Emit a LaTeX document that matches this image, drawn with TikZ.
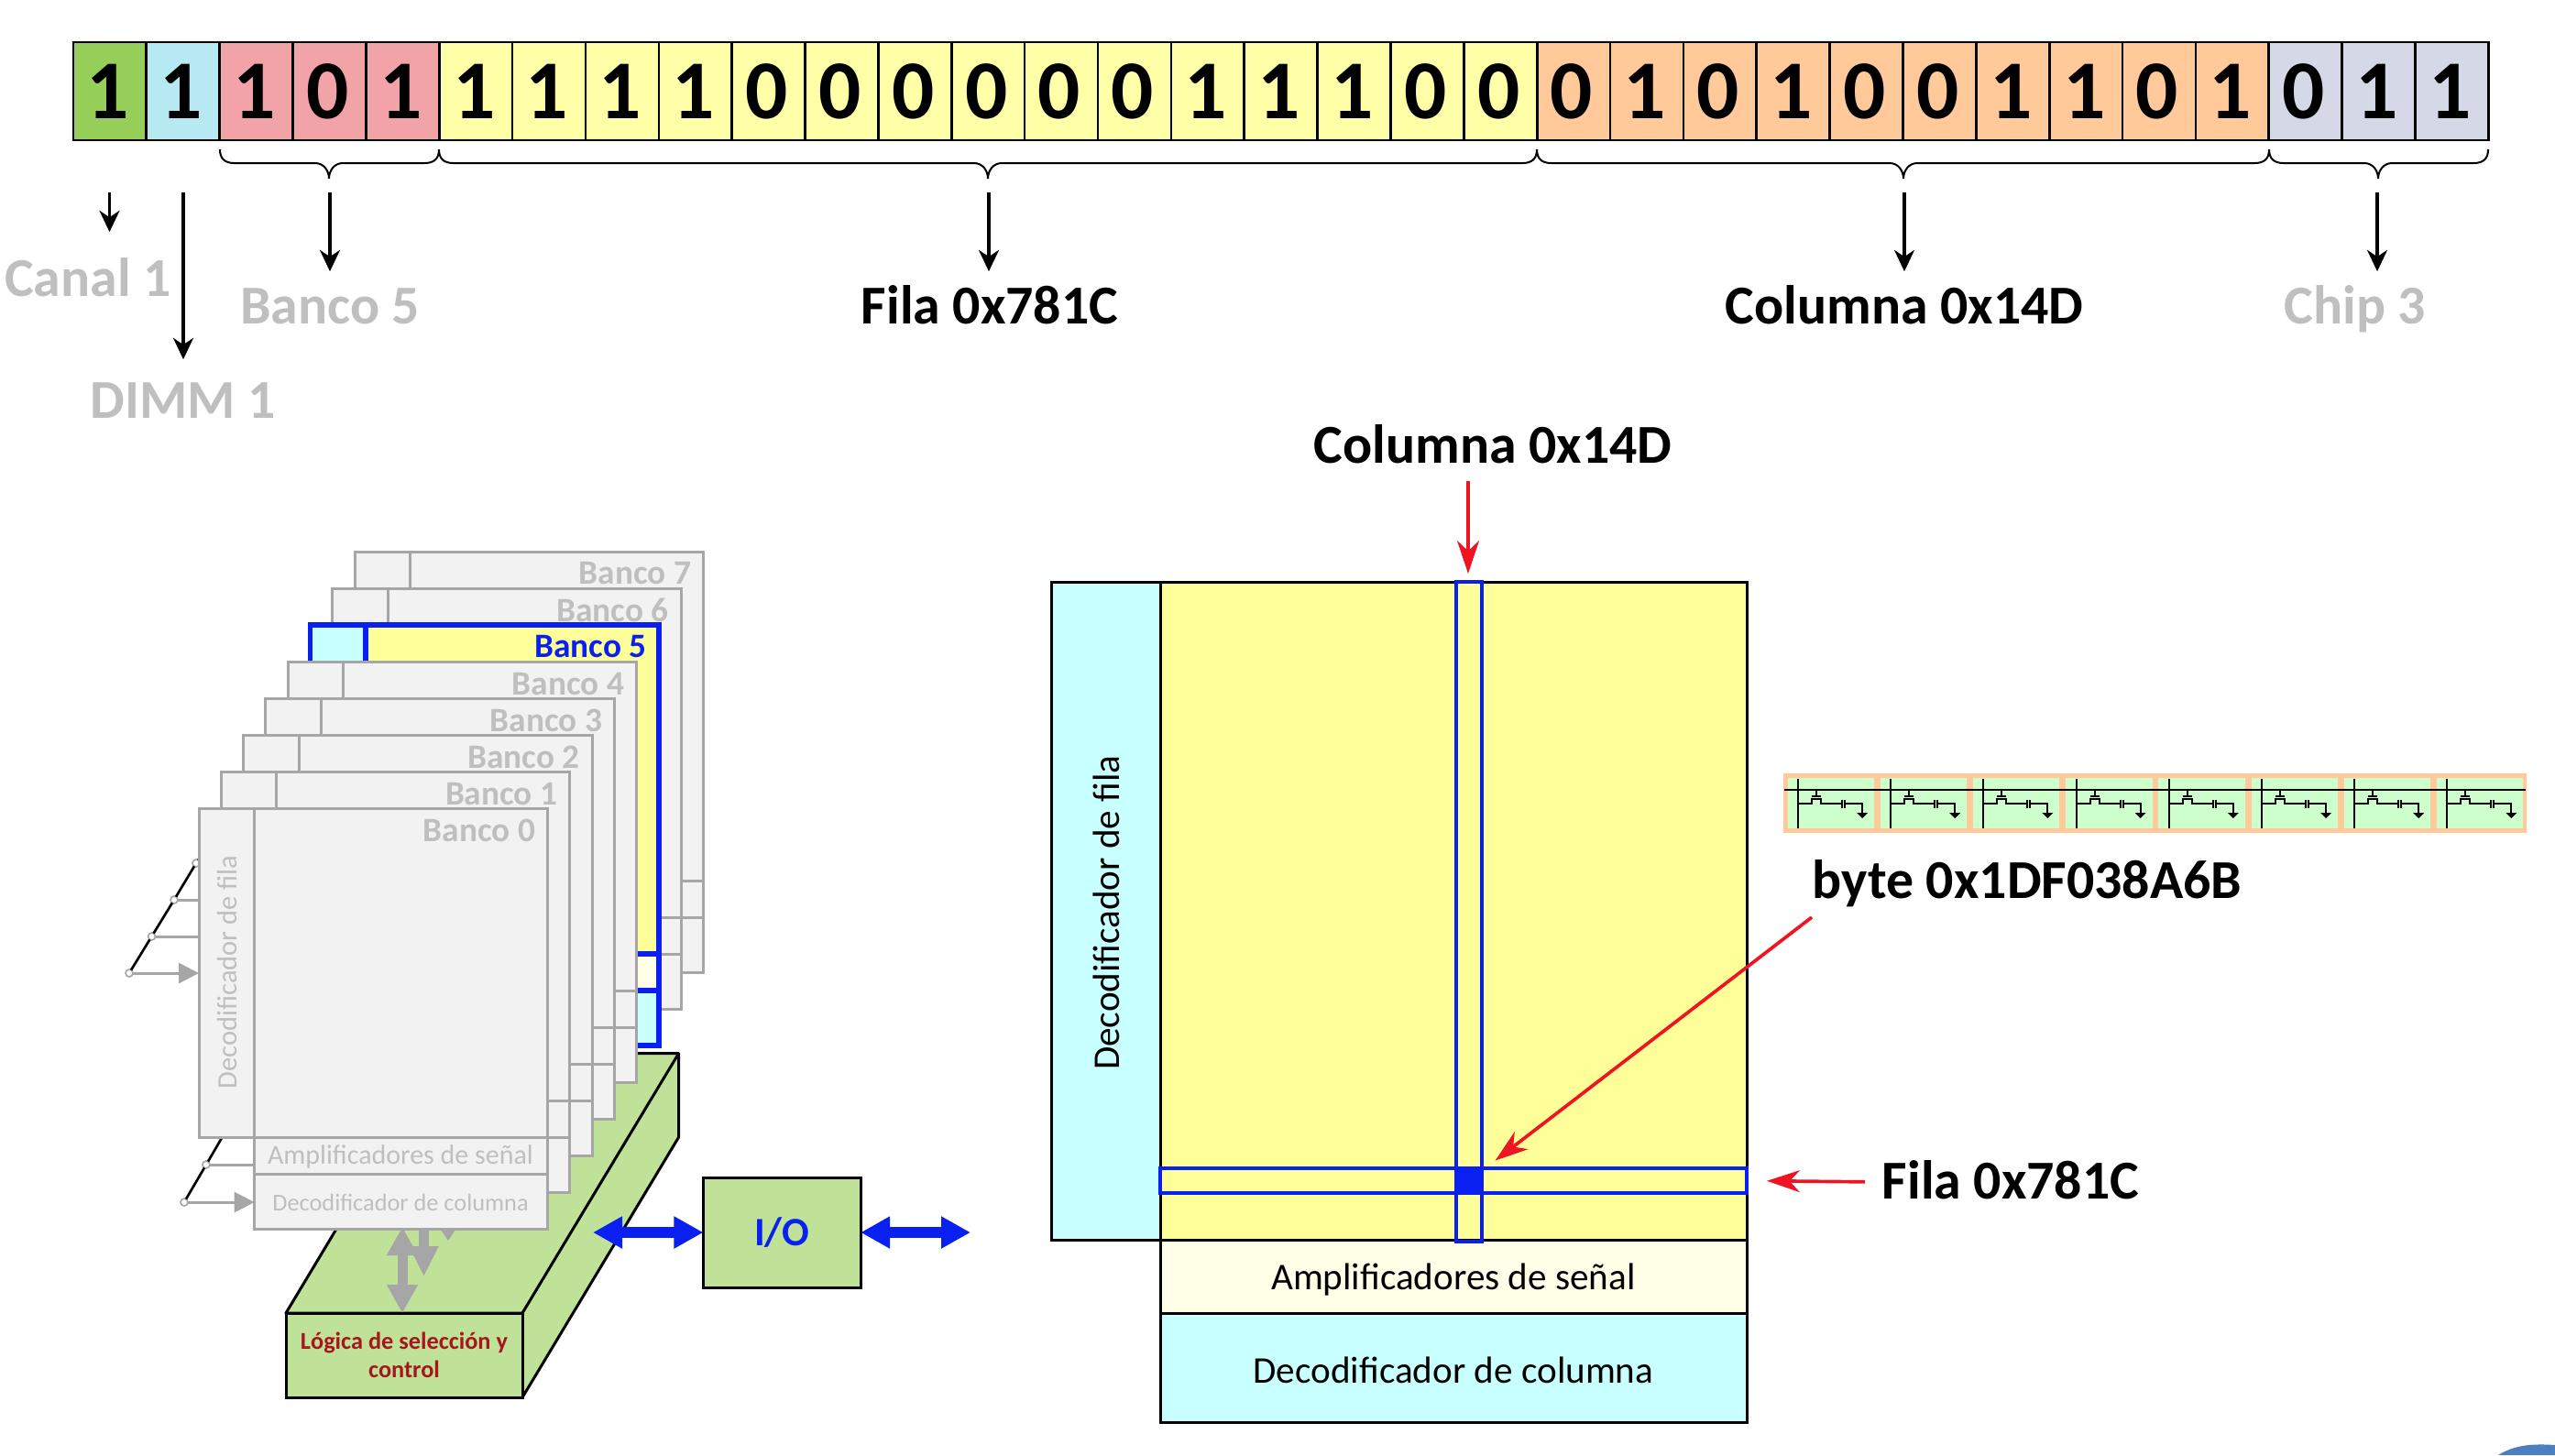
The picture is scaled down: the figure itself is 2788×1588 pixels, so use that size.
\documentclass[tikz,border=0pt]{standalone}
\usepackage{fontspec}
\setmainfont{Carlito}
\usetikzlibrary{arrows.meta}
\definecolor{cGr}{HTML}{95CF5A}
\definecolor{cBl}{HTML}{B7E9F3}
\definecolor{cRe}{HTML}{F1A3A8}
\definecolor{cYe}{HTML}{FFFFA8}
\definecolor{cOr}{HTML}{FFC999}
\definecolor{cLa}{HTML}{D5D8E6}
\definecolor{gl}{HTML}{A6A6A6}
\definecolor{gf}{HTML}{F2F2F2}
\definecolor{gt}{HTML}{BFBFBF}
\definecolor{bl}{HTML}{0A20F0}
\definecolor{cyn}{HTML}{C8FFFF}
\definecolor{yel}{HTML}{FFFF99}
\definecolor{ivo}{HTML}{FFFFE8}
\definecolor{lim}{HTML}{C0E198}
\definecolor{rd}{HTML}{F01423}
\definecolor{brn}{HTML}{A5171D}
\definecolor{cellg}{HTML}{CCFFCC}
\definecolor{cello}{HTML}{FFC999}
\definecolor{corner}{HTML}{4A7FC0}
\tikzset{
  bitbox/.style={draw=black,line width=0.8pt,minimum width=23.96pt,minimum height=32.1pt,inner sep=0pt,outer sep=0pt,font=\bfseries\fontsize{27.4}{30}\selectfont},
  biglbl/.style={inner sep=0pt,outer sep=0pt,text height=11.3pt,text depth=0pt,font=\bfseries\fontsize{17.95}{20}\selectfont},
  blkarrow/.style={draw=black,line width=1pt,-{Stealth[length=7pt,width=6.6pt,inset=2.2pt]}},
  redarrow/.style={draw=rd,line width=1.1pt,-{Stealth[length=10.8pt,width=7.2pt,inset=3.4pt]}},
  bracepath/.style={draw=black,line width=0.6pt},
  boxplain/.style={draw=black,line width=0.9pt,inner sep=0pt,outer sep=0pt},
  wirenode/.style={circle,draw=gl,fill=white,line width=0.5pt,minimum size=2.4pt,inner sep=0pt,outer sep=0pt},
  greywire/.style={draw=gl,line width=0.9pt},
  greytip/.style={draw=gl,line width=0.9pt,-{Triangle[length=6.6pt,width=6.6pt]}},
  bigblue/.style={draw=bl,line width=3.6pt,{Triangle[length=9.6pt,width=9.9pt]}-{Triangle[length=9.6pt,width=9.9pt]}},
  biggrey/.style={draw=gl,line width=3.3pt},
  txt/.style={inner sep=0pt,outer sep=0pt},
}
\newcommand{\mybrace}[3]{\draw[bracepath] (#1,163) .. controls (#1,173) and (#1+5,178) .. (#1+16,178) -- (#3-15,178) .. controls (#3-6,178) and (#3,186) .. (#3,195) .. controls (#3,186) and (#3+6,178) .. (#3+15,178) -- (#2-16,178) .. controls (#2-5,178) and (#2,173) .. (#2,163);}
\begin{document}
\begin{tikzpicture}[x=0.3pt,y=-0.3pt]
\useasboundingbox (0,0) rectangle (2788,1588);
% bit string
\foreach \v/\c [count=\i from 0] in {1/cGr,1/cBl,1/cRe,0/cRe,1/cRe,
  1/cYe,1/cYe,1/cYe,1/cYe,0/cYe,0/cYe,0/cYe,0/cYe,0/cYe,0/cYe,1/cYe,1/cYe,1/cYe,0/cYe,0/cYe,
  0/cOr,1/cOr,0/cOr,1/cOr,0/cOr,0/cOr,1/cOr,1/cOr,0/cOr,1/cOr,
  0/cLa,1/cLa,1/cLa}
  \node[bitbox,fill=\c] (b\i) at (119.9+79.86*\i,99.5) {\kern-1.2pt\v};
% braces
\mybrace{240}{479}{359}
\mybrace{479}{1677}{1078}
\mybrace{1677}{2476}{2077}
\mybrace{2476}{2715}{2595}
% top labels
\node[biglbl,text=gt] (lcanal) at (96,305) {Canal 1};
\node[biglbl,text=gt] (ldimm) at (200,438) {DIMM 1};
\node[biglbl,text=gt] (lbanco) at (360,335) {Banco 5};
\node[biglbl] (lfila) at (1080,335) {Fila 0x781C};
\node[biglbl] (lcol) at (2078,335) {Columna 0x14D};
\node[biglbl,text=gt] (lchip) at (2570,335) {Chip 3};
\coordinate (s1) at (119.5,210);
\coordinate (s2) at (200,210);
\coordinate (s3) at (360,210);
\coordinate (s4) at (1079,210);
\coordinate (s5) at (2078,210);
\coordinate (s6) at (2594,210);
\draw[blkarrow,shorten >=9.9pt] (s1) -- (s1 |- lcanal.north);
\draw[blkarrow,shorten >=8.1pt] (s2) -- (s2 |- ldimm.north);
\draw[blkarrow,shorten >=6pt] (s3) -- (s3 |- lbanco.north);
\draw[blkarrow,shorten >=6pt] (s4) -- (s4 |- lfila.north);
\draw[blkarrow,shorten >=6pt] (s5) -- (s5 |- lcol.north);
\draw[blkarrow,shorten >=6pt] (s6) -- (s6 |- lchip.north);
% green logic block
\draw[boxplain,fill=lim,line join=round] (312,1433) -- (482,1149.5) -- (740.6,1149.5) -- (740.6,1241) -- (570,1525) -- (570,1433) -- cycle;
\draw[boxplain] (570,1433) -- (740.6,1149.5);
\node[boxplain,fill=lim,minimum width=77.4pt,minimum height=27.6pt,anchor=north west,align=center,text=brn,font=\bfseries\fontsize{7.9}{9.3}\selectfont] (logic) at (312,1433) {Lógica de selección y\\control};
% wires (row and column address)
\node[wirenode] (w1) at (141,1062) {};
\node[wirenode] (w2) at (165.5,1022) {};
\node[wirenode] (w3) at (190,982) {};
\node[wirenode] (w4) at (214,942) {};
\coordinate (w5) at (222,930);
\draw[line width=0.8pt] (w1) -- (w2) -- (w3) -- (w4) -- (w5);
\node[wirenode] (w6) at (201,1312) {};
\node[wirenode] (w7) at (225,1271) {};
\coordinate (w8) at (246,1235);
\draw[line width=0.8pt] (w6) -- (w7) -- (w8);
% banks
\foreach \i/\lc/\lw/\fd/\fa/\fm/\tc in {7/gl/0.9pt/gf/gf/gf/gt,6/gl/0.9pt/gf/gf/gf/gt,5/bl/1.6pt/cyn/yel/ivo/bl,4/gl/0.9pt/gf/gf/gf/gt,3/gl/0.9pt/gf/gf/gf/gt,2/gl/0.9pt/gf/gf/gf/gt,1/gl/0.9pt/gf/gf/gf/gt,0/gl/0.9pt/gf/gf/gf/gt}{
  \node[draw=\lc,line width=\lw,fill=\fd,minimum width=18.2pt,minimum height=107.7pt,inner sep=0pt,outer sep=0pt,anchor=north west] (d\i) at (217+24.3*\i,882-40*\i) {};
  \node[draw=\lc,line width=\lw,fill=\fa,minimum width=96pt,minimum height=107.7pt,inner sep=0pt,outer sep=0pt,anchor=north west] (a\i) at (277.6+24.3*\i,882-40*\i) {};
  \node[draw=\lc,line width=\lw,fill=\fm,minimum width=96pt,minimum height=12pt,inner sep=0pt,outer sep=0pt,anchor=north west] (m\i) at (277.6+24.3*\i,1241-40*\i) {};
  \node[draw=\lc,line width=\lw,fill=\fd,minimum width=96pt,minimum height=18pt,inner sep=0pt,outer sep=0pt,anchor=north west] (c\i) at (277.6+24.3*\i,1281-40*\i) {};
  \node[txt,text=\tc,anchor=east,font=\bfseries\fontsize{11.2}{13}\selectfont] (lb\i) at (584+24.3*\i,906-40*\i) {Banco \i};
}
\node[txt,text=gt,rotate=90,font=\fontsize{9.15}{10}\selectfont] (tdec0) at (248,1061) {Decodificador de fila};
\node[txt,text=gt,font=\fontsize{9}{10}\selectfont] (tamp0) at (437,1262) {Amplificadores de señal};
\node[txt,text=gt,font=\fontsize{7.9}{9}\selectfont] (tcol0) at (437,1312) {Decodificador de columna};
\draw[greytip] (w1) -- (w1 -| d0.west);
\draw[greywire] (w2) -- (w2 -| d0.west);
\draw[greywire] (w3) -- (w3 -| d0.west);
\draw[greytip] (w6) -- (w6 -| c0.west);
\draw[greywire] (w7) -- (w7 -| m0.west);
% grey data arrows below the banks
\coordinate (g1) at (439,1339);
\coordinate (g2) at (462.5,1341);
\coordinate (g3) at (462.5,1393);
\draw[biggrey,{Triangle[length=9.3pt,width=9.6pt]}-{Triangle[length=9.3pt,width=9.6pt]}] (g1) -- (g1 |- logic.north);
\draw[biggrey,-{Triangle[length=9.9pt,width=9pt]}] (g2) -- (g3);
\fill[gl] (481,1342) -- (497,1342) -- (489,1354) -- cycle;
% I/O
\node[boxplain,fill=lim,minimum width=51.5pt,minimum height=36pt,text=bl,font=\bfseries\fontsize{13.2}{15}\selectfont] (io) at (853.3,1345) {I/O};
\coordinate (iol) at (647,1345);
\coordinate (ior) at (1059,1345);
\draw[bigblue] (io.west) -- (iol);
\draw[bigblue] (io.east) -- (ior);
% right memory array
\node[boxplain,fill=cyn,minimum width=35.7pt,minimum height=215.4pt,anchor=north west] (rdec) at (1147,635) {};
\node[boxplain,fill=yel,minimum width=192pt,minimum height=215.4pt,anchor=north west] (rarr) at (1266,635) {};
\node[boxplain,fill=ivo,minimum width=192pt,minimum height=24pt,anchor=north west] (ramp) at (1266,1353) {};
\node[boxplain,fill=cyn,minimum width=192pt,minimum height=35.7pt,anchor=north west] (rcol) at (1266,1433) {};
\node[txt,rotate=90,font=\fontsize{12.35}{14}\selectfont] (tdec) at (1207,996) {Decodificador de fila};
\node[txt,font=\fontsize{12.35}{14}\selectfont] (tamp) at (1586,1396) {Amplificadores de señal};
\node[txt,font=\fontsize{12.35}{14}\selectfont] (tcolb) at (1586,1495) {Decodificador de columna};
\node[draw=bl,line width=1.1pt,minimum width=8.4pt,minimum height=216pt,inner sep=0pt,outer sep=0pt,anchor=north west] (stc) at (1589,635) {};
\node[draw=bl,line width=1.1pt,minimum width=192pt,minimum height=8.1pt,inner sep=0pt,outer sep=0pt,anchor=north west] (str) at (1266,1275) {};
\node[fill=bl,draw=bl,line width=0.6pt,minimum width=8.4pt,minimum height=8.1pt,inner sep=0pt,outer sep=0pt,anchor=north west] (cell) at (1589,1275) {};
\node[biglbl] (lcol2) at (1629,487) {Columna 0x14D};
\node[biglbl] (lfila2) at (2194,1290) {Fila 0x781C};
\node[biglbl] (lbyte) at (2212,962) {byte 0x1DF038A6B};
\coordinate (cs) at (1602,525);
\coordinate (bs) at (1977,1001);
\draw[redarrow,shorten >=2.7pt] (cs) -- (cs |- rarr.north);
\draw[redarrow,shorten >=10.8pt] (bs) -- (cell.center);
\draw[redarrow,shorten <=5.7pt,shorten >=6.6pt] (lfila2.west) -- (str.east);
% byte of DRAM cells
\fill[cello] (1946,844) rectangle (2757,909);
\foreach \k in {0,...,7}{
\begin{scope}[shift={(101.2*\k,0)}]
  \fill[cellg] (1950.5,849) rectangle (2045,904);
  \draw[line width=0.6pt] (1962,850) -- (1962,904);
  \draw[line width=0.6pt] (1962,877) -- (1977,877) -- (1977,872) -- (1987,872) -- (1987,877) -- (2010,877);
  \draw[line width=0.7pt] (1977,869) -- (1987,869);
  \draw[line width=0.6pt] (1982,862) -- (1982,869);
  \draw[line width=0.6pt] (2010,873) -- (2010,882) (2013,873) -- (2013,882);
  \draw[line width=0.6pt] (2013,877) -- (2032,877) -- (2032,887);
  \fill (2026,887) -- (2038,887) -- (2032,893) -- cycle;
\end{scope}}
\draw[line width=0.7pt] (1947,862) -- (2756,862);
% corner fragment
\fill[corner] (2726,1588) .. controls (2742,1578) and (2760,1575) .. (2788,1577) -- (2788,1588) -- cycle;
\end{tikzpicture}
\end{document}
